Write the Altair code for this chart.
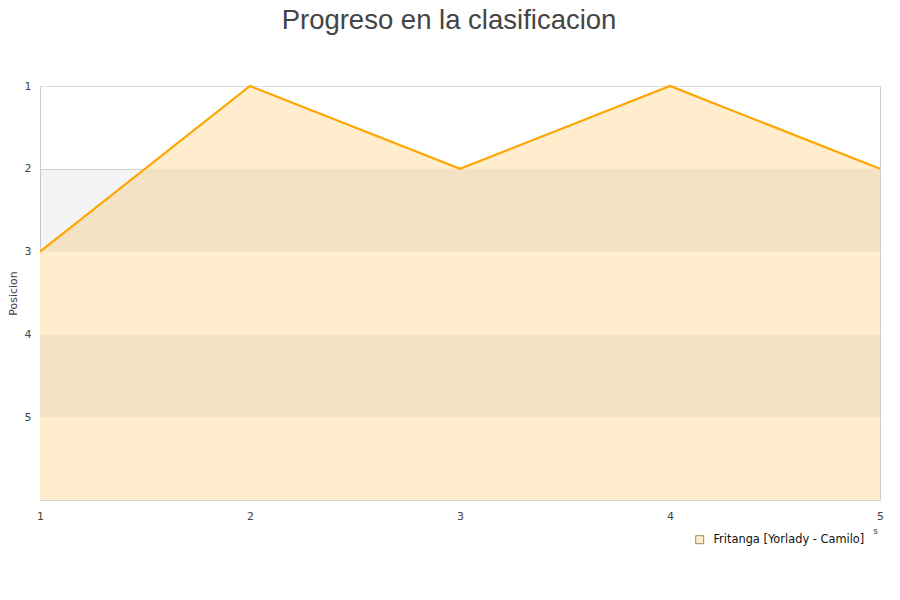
import altair as alt
import pandas as pd

rounds = [1, 2, 3, 4, 5]
positions = [3, 1, 2, 1, 2]
team = "Fritanga [Yorlady - Camilo]"
band_start = [2, 4]
band_end = [3, 5]

df = pd.DataFrame({"ronda": rounds, "pos": positions, "equipo": [team] * len(rounds)})
bands = pd.DataFrame({"a": band_start, "b": band_end})

xscale = alt.Scale(domain=[1, 5], nice=False, zero=False)
yscale = alt.Scale(domain=[1, 6], reverse=True, nice=False, zero=False)

color = alt.Color(
    "equipo:N",
    scale=alt.Scale(range=["#ffedcd"]),
    legend=alt.Legend(
        title=None, orient="none", legendX=654, legendY=448,
        symbolType="square", symbolSize=64, symbolStrokeColor="#a08860",
        symbolStrokeWidth=1, symbolOpacity=1, labelFontSize=11.4, labelColor="#111",
        labelFont="DejaVu Sans", labelOffset=8,
    ),
)

area = alt.Chart(df).mark_area(opacity=1).encode(
    x=alt.X("ronda:Q", scale=xscale,
            axis=alt.Axis(values=rounds, format="d", grid=False, ticks=False, domain=False,
                          labelFlush=False, labelPadding=10, labelFontSize=11,
                          labelColor="#444", labelFont="DejaVu Sans",
                          title="s", titleFontSize=9, titleFontWeight="normal",
                          titleColor="#444", titleX=835, titleY=26)),
    y=alt.Y("pos:Q", scale=yscale,
            axis=alt.Axis(values=[1, 2, 3, 4, 5], format="d", grid=True, gridColor="#dcdcdc",
                          ticks=False, domain=False, labelPadding=9, labelFontSize=11,
                          labelColor="#444", labelFont="DejaVu Sans",
                          title="Posicion", titleFontSize=11, titleFontWeight="normal",
                          titleColor="#444", titleFont="DejaVu Sans", titlePadding=6)),
    y2=alt.datum(6),
    fill=color,
)

band_layer = alt.Chart(bands).mark_rect(color="#000000", opacity=0.045).encode(
    x=alt.datum(1, scale=xscale),
    x2=alt.datum(5),
    y=alt.Y("a:Q", scale=yscale),
    y2="b:Q",
)

line = alt.Chart(df).mark_line(color="#FFA500", strokeWidth=2.2).encode(
    x=alt.X("ronda:Q", scale=xscale),
    y=alt.Y("pos:Q", scale=yscale),
)

chart = alt.layer(area, band_layer, line).properties(
    width=840,
    height=414,
    title=alt.TitleParams(
        "Progreso en la clasificacion", fontSize=27.5, fontWeight="normal",
        color="#444", font="Liberation Sans", anchor="middle", dx=-11, offset=46,
    ),
    padding={"left": 32, "top": 78, "right": 12, "bottom": 78},
    autosize=alt.AutoSizeParams(type="none"),
).configure_view(stroke="#d0d0d0", strokeWidth=1)

chart.save("out.html", embed_options={"renderer": "svg", "actions": False})
